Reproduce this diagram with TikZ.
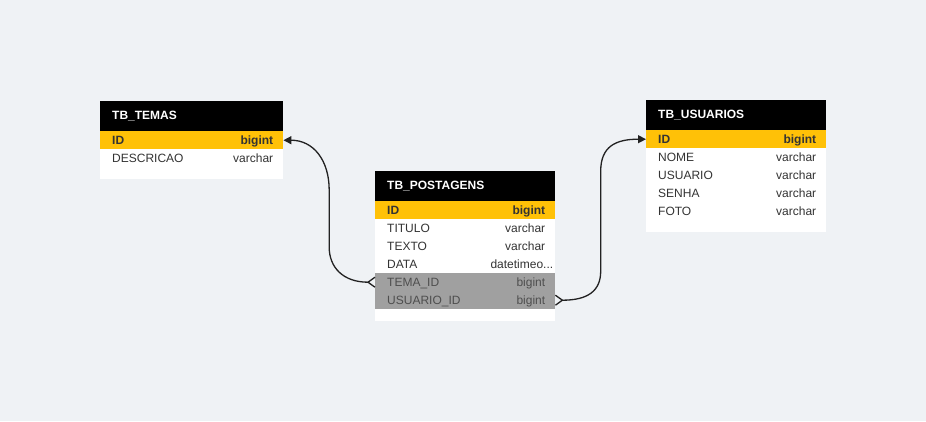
\documentclass[tikz,border=0pt]{standalone}
\usepackage{fontspec}
\setmainfont{Liberation Sans}
\usetikzlibrary{arrows.meta,calc}

\definecolor{canvas}{RGB}{239,242,245}
\definecolor{keyrow}{RGB}{255,193,7}
\definecolor{fkfill}{RGB}{160,160,160}
\definecolor{rowline}{RGB}{230,232,235}
\definecolor{fktext}{RGB}{78,78,78}
\definecolor{celltext}{RGB}{51,51,51}
\definecolor{linkcol}{RGB}{34,34,34}

\tikzset{
  tbhead/.style={anchor=north west, fill=black, minimum height=30pt, inner sep=0pt},
  tbtitle/.style={anchor=base west, text=white, inner sep=0pt, font=\bfseries\fontsize{12}{14}\selectfont},
  tbrow/.style={anchor=north west, fill=white, minimum height=18pt, inner sep=0pt},
  pkrow/.style={tbrow, fill=keyrow},
  fkrow/.style={tbrow, fill=fkfill},
  tbpad/.style={tbrow, minimum height=12pt},
  tbrow txt/.style={},
  pkrow txt/.style={font=\bfseries\fontsize{12}{14}\selectfont},
  fkrow txt/.style={text=fktext},
  fieldtxt/.style={anchor=base west, inner sep=0pt, text=celltext, font=\fontsize{12}{14}\selectfont},
  typetxt/.style={anchor=base east, inner sep=0pt, text=celltext, font=\fontsize{12}{14}\selectfont},
  link/.style={draw=linkcol, line width=1.3pt},
}

% name, x, y, width, row style, field, type, right gap
\newcommand{\tbcell}[8]{%
  \node[#5, minimum width=#4pt] (#1) at (#2,#3) {};
  \node[fieldtxt, #5 txt] (#1-f) at ([xshift=12pt, yshift=-4.3pt]#1.west) {#6};
  \node[typetxt, #5 txt] (#1-t) at ([xshift=-#8pt, yshift=-4.3pt]#1.east) {#7};
  \draw[rowline, line width=1pt] (#1.south west) -- (#1.south east);
}

\begin{document}
\begin{tikzpicture}[x=1pt, y=-1pt]
  \fill[canvas] (0,0) rectangle (926,421);
  \useasboundingbox (0,0) rectangle (926,421);

  % TB_TEMAS
  \node[tbhead, minimum width=183pt] (temas) at (100,101) {};
  \node[tbtitle] (temas-t) at ([xshift=12pt, yshift=-3pt]temas.west) {TB\_TEMAS};
  \tbcell{t-id}{100}{131}{183}{pkrow}{ID}{bigint}{10}
  \tbcell{t-desc}{100}{149}{183}{tbrow}{DESCRICAO}{varchar}{10}
  \node[tbpad, minimum width=183pt] (t-pad) at (100,167) {};

  % TB_POSTAGENS
  \node[tbhead, minimum width=180pt] (post) at (375,171) {};
  \node[tbtitle] (post-t) at ([xshift=12pt, yshift=-3pt]post.west) {TB\_POSTAGENS};
  \tbcell{p-id}{375}{201}{180}{pkrow}{ID}{bigint}{10}
  \tbcell{p-titulo}{375}{219}{180}{tbrow}{TITULO}{varchar}{10}
  \tbcell{p-texto}{375}{237}{180}{tbrow}{TEXTO}{varchar}{10}
  \tbcell{p-data}{375}{255}{180}{tbrow}{DATA}{datetimeo...}{2}
  \tbcell{p-tema}{375}{273}{180}{fkrow}{TEMA\_ID}{bigint}{10}
  \tbcell{p-usuario}{375}{291}{180}{fkrow}{USUARIO\_ID}{bigint}{10}
  \node[tbpad, minimum width=180pt] (p-pad) at (375,309) {};

  % TB_USUARIOS
  \node[tbhead, minimum width=180pt] (usu) at (646,100) {};
  \node[tbtitle] (usu-t) at ([xshift=12pt, yshift=-3pt]usu.west) {TB\_USUARIOS};
  \tbcell{u-id}{646}{130}{180}{pkrow}{ID}{bigint}{10}
  \tbcell{u-nome}{646}{148}{180}{tbrow}{NOME}{varchar}{10}
  \tbcell{u-usuario}{646}{166}{180}{tbrow}{USUARIO}{varchar}{10}
  \tbcell{u-senha}{646}{184}{180}{tbrow}{SENHA}{varchar}{10}
  \tbcell{u-foto}{646}{202}{180}{tbrow}{FOTO}{varchar}{10}
  \node[tbpad, minimum width=180pt] (u-pad) at (646,220) {};

  % TEMA_ID -> TB_TEMAS.ID
  \coordinate (lfoot) at ($(p-tema.west)+(-7pt,0)$);
  \coordinate (lmid) at ($(t-id.east)!0.5!(p-tema.west)$);
  \draw[link] ([yshift=5pt]p-tema.west) -- (lfoot) -- ([yshift=-5pt]p-tema.west);
  \draw[link, -{Triangle[length=8pt, width=8pt]}] (lfoot)
    .. controls +(-25,0) and +(0,20) .. ($(lmid |- lfoot)+(0,-35)$)
    -- ($(lmid |- t-id.east)+(0,50)$)
    .. controls +(0,-30) and +(30,0) .. (t-id.east);

  % USUARIO_ID -> TB_USUARIOS.ID
  \coordinate (rfoot) at ($(p-usuario.east)+(7pt,0)$);
  \coordinate (rmid) at ($(p-usuario.east)!0.5!(u-id.west)$);
  \draw[link] ([yshift=5pt]p-usuario.east) -- (rfoot) -- ([yshift=-5pt]p-usuario.east);
  \draw[link, -{Triangle[length=8pt, width=8pt]}] (rfoot)
    .. controls +(25,0) and +(0,20) .. ($(rmid |- rfoot)+(0,-29)$)
    -- ($(rmid |- u-id.west)+(0,32)$)
    .. controls +(0,-25) and +(-30,0) .. (u-id.west);
\end{tikzpicture}
\end{document}
